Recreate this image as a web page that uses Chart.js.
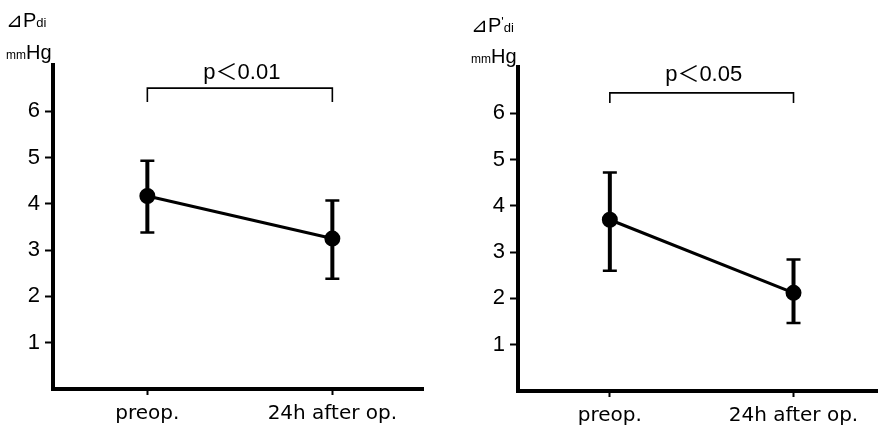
<!DOCTYPE html>
<html>
<head>
<meta charset="utf-8">
<script src="https://cdn.jsdelivr.net/npm/chart.js@4.4.1/dist/chart.umd.min.js"></script>
<style>
  html, body { margin: 0; padding: 0; background: #fff; }
  body { width: 878px; height: 432px; position: relative; overflow: hidden; font-family: "Liberation Sans", Arial, sans-serif; }
  .cw { position: absolute; top: 0; height: 432px; }
  .lbl { position: absolute; color: #000; white-space: nowrap; line-height: 1; }
  .big { font-size: 20px; }
  .sub { font-size: 13px; }
  .mm { font-size: 12px; }
</style>
</head>
<body>
<div class="cw" style="left:0;width:440px"><canvas id="c1" width="440" height="432"></canvas></div>
<div class="cw" style="left:440px;width:438px"><canvas id="c2" width="438" height="432"></canvas></div>

<div class="lbl" style="left:6px;top:10px"><span class="big">⊿P</span><span class="sub">di</span></div>
<div class="lbl" style="left:6px;top:42px"><span class="mm">mm</span><span class="big">Hg</span></div>
<div class="lbl" style="left:471px;top:15px"><span class="big">⊿P</span><span class="sub" style="vertical-align:6px">'</span><span class="sub">di</span></div>
<div class="lbl" style="left:471px;top:46px"><span class="mm">mm</span><span class="big">Hg</span></div>

<script>
// ---- data ----
const categories = ["preop.", "24h after op."];
const yTicks = [1, 2, 3, 4, 5, 6];

const leftMeans = [4.17, 3.25];
const leftUpper = [4.93, 4.07];
const leftLower = [3.38, 2.38];

const rightMeans = [3.70, 2.12];
const rightUpper = [4.72, 2.84];
const rightLower = [2.60, 1.47];

const pLabels = ["p＜0.01", "p＜0.05"];

// ---- plugins ----
const errorBars = {
  id: 'errorBars',
  beforeDatasetsDraw(chart, args, opts) {
    const ctx = chart.ctx, xs = chart.scales.x, ys = chart.scales.y;
    ctx.save();
    ctx.strokeStyle = '#000';
    opts.upper.forEach((u, i) => {
      const x = xs.getPixelForValue(i);
      const yt = ys.getPixelForValue(u), yb = ys.getPixelForValue(opts.lower[i]);
      ctx.lineWidth = 4;
      ctx.beginPath(); ctx.moveTo(x, yt); ctx.lineTo(x, yb); ctx.stroke();
      ctx.lineWidth = 2.5;
      ctx.beginPath();
      ctx.moveTo(x - 7, yt); ctx.lineTo(x + 7, yt);
      ctx.moveTo(x - 7, yb); ctx.lineTo(x + 7, yb);
      ctx.stroke();
    });
    ctx.restore();
  }
};

const bracket = {
  id: 'bracket',
  afterDraw(chart, args, opts) {
    const ctx = chart.ctx, xs = chart.scales.x, ys = chart.scales.y;
    const x0 = xs.getPixelForValue(0), x1 = xs.getPixelForValue(1);
    const yb = ys.getPixelForValue(opts.barAt), ye = ys.getPixelForValue(opts.endAt);
    ctx.save();
    ctx.strokeStyle = '#000';
    ctx.lineWidth = 1.6;
    ctx.beginPath();
    ctx.moveTo(x0, ye); ctx.lineTo(x0, yb); ctx.lineTo(x1, yb); ctx.lineTo(x1, ye);
    ctx.stroke();
    ctx.fillStyle = '#000';
    ctx.font = '22px "Liberation Sans", "Noto Sans CJK JP", sans-serif';
    ctx.textAlign = 'center';
    ctx.textBaseline = 'middle';
    ctx.fillText(opts.text, (x0 + x1) / 2 + opts.dx, ys.getPixelForValue(opts.textAt));
    ctx.restore();
  }
};

function makeChart(id, means, upper, lower, cfg) {
  return new Chart(document.getElementById(id), {
    type: 'line',
    data: {
      datasets: [{
        data: means.map((v, i) => ({ x: i, y: v })),
        borderColor: '#000',
        borderWidth: 3,
        pointRadius: 6.5,
        pointBackgroundColor: '#000',
        pointBorderColor: '#000',
        tension: 0,
        clip: false
      }]
    },
    plugins: [errorBars, bracket],
    options: {
      responsive: false,
      animation: false,
      layout: { autoPadding: false, padding: { top: cfg.top, right: cfg.right, left: 0, bottom: 0 } },
      plugins: {
        legend: { display: false },
        tooltip: { enabled: false },
        errorBars: { upper, lower },
        bracket: cfg.bracket
      },
      scales: {
        x: {
          type: 'linear',
          min: cfg.xmin,
          max: cfg.xmax,
          afterBuildTicks: s => { s.ticks = categories.map((c, i) => ({ value: i })); },
          afterFit: s => { s.height = cfg.xh; s.paddingLeft = 0; s.paddingRight = 0; },
          border: { display: true, color: '#000', width: 4 },
          grid: { drawOnChartArea: false, drawTicks: true, tickLength: 6, tickWidth: 2, color: '#000' },
          ticks: {
            color: '#000',
            padding: 7,
            maxRotation: 0,
            autoSkip: false,
            font: { family: '"DejaVu Sans", sans-serif', size: 20 },
            callback: v => categories[v] ?? ''
          }
        },
        y: {
          min: 0,
          max: 7,
          afterBuildTicks: s => { s.ticks = yTicks.map(v => ({ value: v })); },
          afterFit: s => { s.width = cfg.yw; s.paddingTop = 0; s.paddingBottom = 0; },
          border: { display: true, color: '#000', width: 4 },
          grid: { drawOnChartArea: false, drawTicks: true, tickLength: 8, tickWidth: 2, color: '#000' },
          ticks: {
            color: '#000',
            padding: 5,
            font: { family: '"Liberation Sans", Arial, sans-serif', size: 22 }
          }
        }
      }
    }
  });
}

makeChart('c1', leftMeans, leftUpper, leftLower, {
  top: 65, right: 17, xh: 43, yw: 53, xmin: -0.51, xmax: 1.49,
  bracket: { barAt: 6.5, endAt: 6.2, textAt: 6.83, text: pLabels[0], dx: 2 }
});
makeChart('c2', rightMeans, rightUpper, rightLower, {
  top: 67, right: 0, xh: 41, yw: 78, xmin: -0.5, xmax: 1.46,
  bracket: { barAt: 6.44, endAt: 6.22, textAt: 6.82, text: pLabels[1], dx: 2 }
});
</script>
</body>
</html>
